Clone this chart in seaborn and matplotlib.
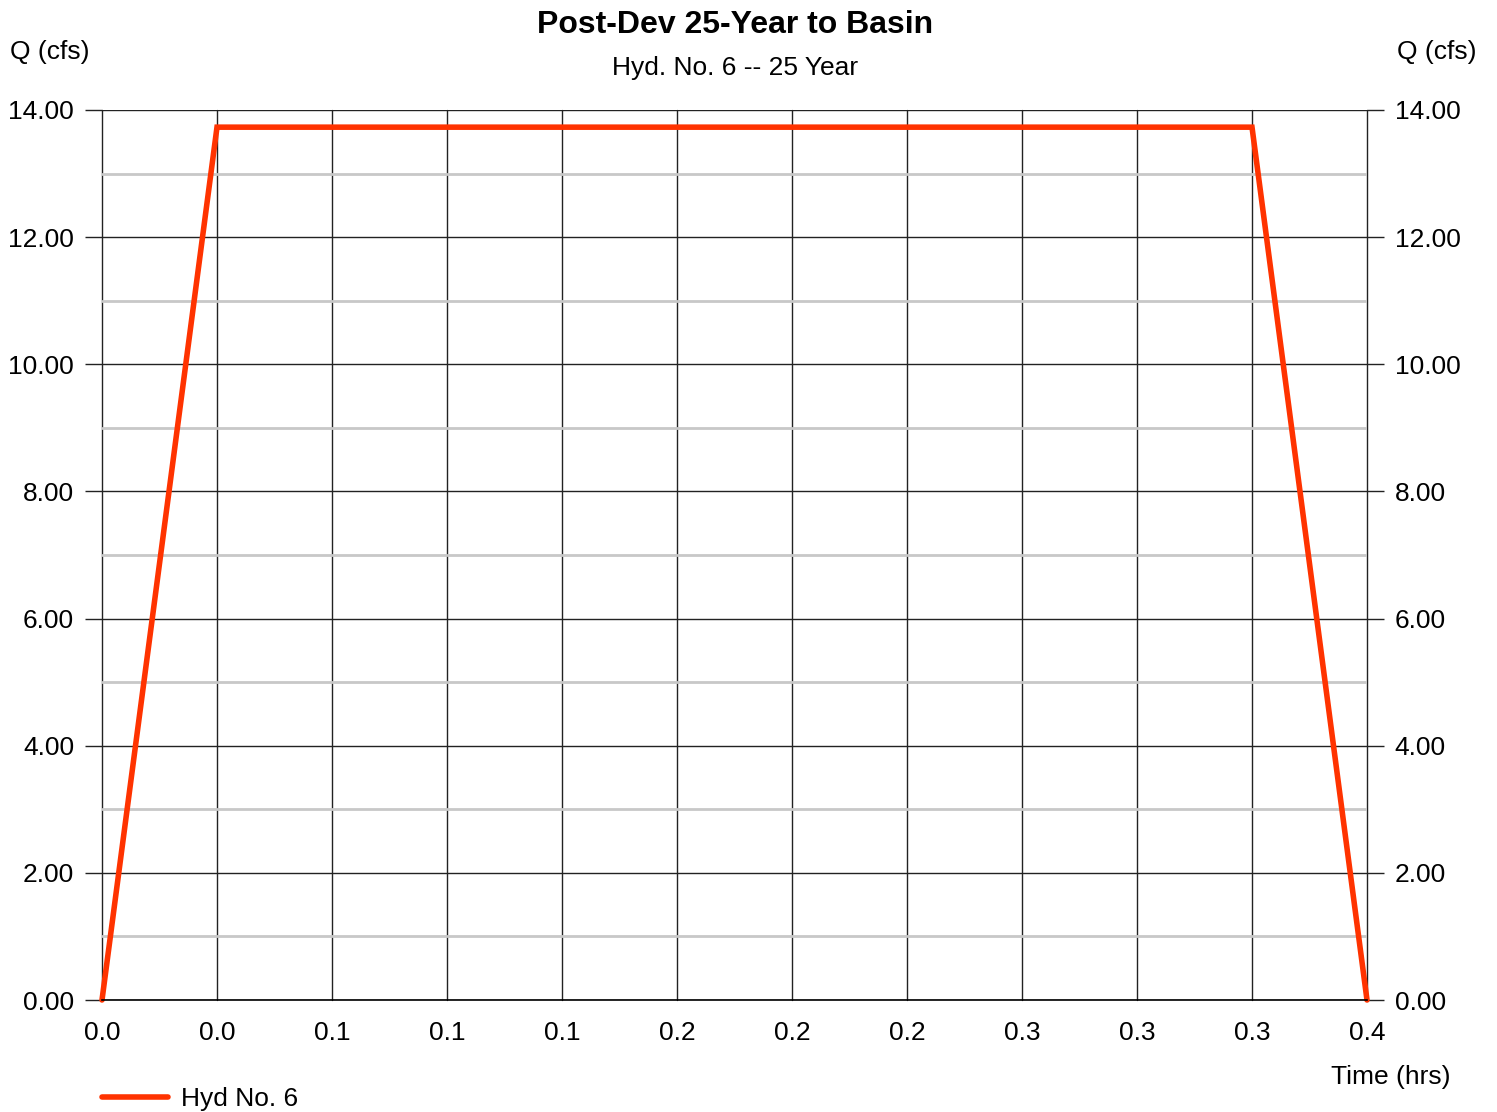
import matplotlib
matplotlib.use("Agg")
import matplotlib.pyplot as plt
import seaborn as sns
import pandas as pd
from matplotlib.ticker import MultipleLocator, FormatStrFormatter

sns.set_theme(style="white")
plt.rcParams["font.family"] = ["Liberation Sans", "DejaVu Sans"]
plt.rcParams["text.color"] = "black"
plt.rcParams["xtick.labelcolor"] = "black"
plt.rcParams["ytick.labelcolor"] = "black"

# Hydrograph ordinates (2-minute steps)
time_hrs = [0.0, 2/60, 4/60, 6/60, 8/60, 10/60, 12/60, 14/60, 16/60, 18/60, 20/60, 22/60]
flow_cfs = [0.0, 13.73, 13.73, 13.73, 13.73, 13.73, 13.73, 13.73, 13.73, 13.73, 13.73, 0.0]
series_name = "Hyd No. 6"

title = "Post-Dev 25-Year to Basin"
subtitle = "Hyd. No. 6 -- 25 Year"

df = pd.DataFrame({"Time (hrs)": time_hrs, "Q (cfs)": flow_cfs})

W, H = 1497, 1112
fig = plt.figure(figsize=(W / 100, H / 100), dpi=100)
x0, x1, ytop, ybot = 102, 1367, 110, 1000
ax = fig.add_axes([x0 / W, 1 - ybot / H, (x1 - x0) / W, (ybot - ytop) / H])

ax.set_xlim(time_hrs[0], time_hrs[-1])
ax.set_ylim(0, 14)

# grid: black majors, light grey minors
ax.set_xticks(time_hrs)
ax.xaxis.set_major_formatter(FormatStrFormatter("%.1f"))
ax.yaxis.set_major_locator(MultipleLocator(2))
ax.yaxis.set_minor_locator(MultipleLocator(1))
ax.yaxis.set_major_formatter(FormatStrFormatter("%.2f"))
ax.grid(which="major", axis="both", color="#222222", linewidth=1.0)
ax.grid(which="minor", axis="y", color="#c8c8c8", linewidth=2.0)
ax.set_axisbelow(True)
for gl in ax.xaxis.get_gridlines():
    gl.set_clip_on(False)

for s in ax.spines.values():
    s.set_visible(False)
ax.spines["bottom"].set_visible(True)
ax.spines["bottom"].set_color("black")
ax.spines["bottom"].set_linewidth(1.2)

sns.lineplot(data=df, x="Time (hrs)", y="Q (cfs)", ax=ax, color="#ff3300",
             linewidth=4.0, label=series_name, legend=False, clip_on=False,
             solid_joinstyle="miter")

ax.tick_params(axis="y", which="major", length=12, width=1.0, color="#222222",
               left=True, right=True, labelleft=True, labelright=True,
               labelsize=19, pad=8)
ax.tick_params(axis="y", which="minor", length=0)
ax.tick_params(axis="x", which="major", length=0, labelsize=19, pad=15)
ax.set_xlabel("")
ax.set_ylabel("")

fig.text(735 / W, 1 - 25 / H, title, ha="center", va="center",
         fontsize=23, fontweight="bold", color="black")
fig.text(735 / W, 1 - 68 / H, subtitle, ha="center", va="center",
         fontsize=19, color="black")
fig.text(50 / W, 1 - 52 / H, "Q (cfs)", ha="center", va="center", fontsize=19)
fig.text(1437 / W, 1 - 52 / H, "Q (cfs)", ha="center", va="center", fontsize=19)
fig.text(1391 / W, 1 - 1077 / H, "Time (hrs)", ha="center", va="center", fontsize=19)

# legend entry
fig.add_artist(plt.Line2D([102 / W, 168 / W], [1 - 1097 / H, 1 - 1097 / H],
                          color="#ff3300", linewidth=4.0, solid_capstyle="round"))
fig.text(181 / W, 1 - 1099 / H, series_name, ha="left", va="center", fontsize=19)

fig.savefig("out.png", dpi=100)
